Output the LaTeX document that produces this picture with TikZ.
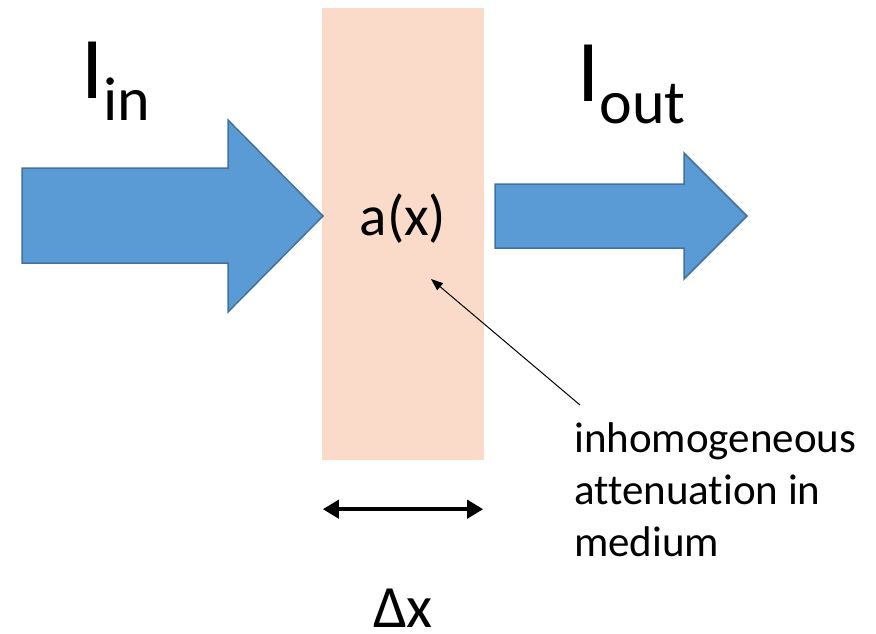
\documentclass[tikz,border=0pt]{standalone}
\usepackage{fontspec}
\setmainfont{Carlito}[Ligatures=NoCommon]
\definecolor{cBlue}{HTML}{5B9BD5}
\definecolor{cEdge}{HTML}{41719C}
\definecolor{cSlab}{HTML}{FADBCA}
\usetikzlibrary{positioning,arrows.meta,calc}
\newcommand\lowsub[2]{\raisebox{-#1}{\fontsize{62}{62}\selectfont #2}}

\begin{document}
\begin{tikzpicture}[x=1pt,y=-1pt,
      blk/.style={fill=cBlue,draw=cEdge,line width=1.5pt,line join=miter},
      slb/.style={fill=cSlab,minimum width=162pt,minimum height=452pt,inner sep=0pt},
      big/.style={inner sep=0pt,anchor=base west,font=\fontsize{88}{88}\selectfont},
      mid/.style={inner sep=0pt,anchor=base,text depth=0pt,font=\fontsize{57}{57}\selectfont},
      nte/.style={inner sep=0pt,anchor=base west,align=left,font=\fontsize{43}{52}\selectfont},
      ptr/.style={-{Triangle[length=12pt,width=9pt]},line width=1pt},
      wid/.style={{Triangle[length=16pt,width=18pt]}-{Triangle[length=16pt,width=18pt]},line width=4pt}]
    \useasboundingbox (0,0) rectangle (876,634);
    % medium
    \node[slb] (slab) at (403,234) {};
    % beams
    \draw[blk] (22,168) -- (228,168) -- (228,120) -- (323,216) -- (228,312)
      -- (228,263) -- (22,263) -- cycle;
    \draw[blk] (495,184) -- (684,184) -- (684,153) -- (747,216) -- (684,279)
      -- (684,248) -- (495,248) -- cycle;
    \node[big] (iin) at (81,99) {I\lowsub{22pt}{in}};
    \node[big] (iout) at (577,102) {I\lowsub{21pt}{out}};
    \node[mid] (ax) at (403,235) {a(x)};
    \node[mid,font=\fontsize{60}{60}\selectfont] (dx) at (403,627) {Δx};
    \node[nte] (note) at (574,556) {inhomogeneous\\attenuation in\\medium};
    \draw[ptr] ($(note.base west)+(6,-151)$) -- ($(ax.base)+(28,44)$);
    \draw[wid] ([xshift=1pt,yshift=-49pt]slab.south west) -- ([xshift=-1pt,yshift=-49pt]slab.south east);
  \end{tikzpicture}
\end{document}
